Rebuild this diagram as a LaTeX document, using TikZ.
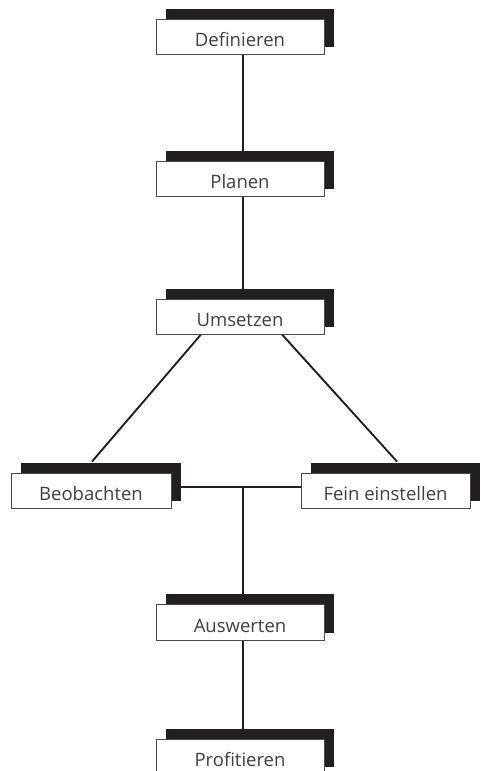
\documentclass[tikz,border=0pt]{standalone}
\usepackage{fontspec}
\setmainfont{Open Sans}
\usetikzlibrary{backgrounds}
\definecolor{ink}{HTML}{231F20}
\definecolor{boxline}{HTML}{4A4A4A}
\definecolor{txt}{HTML}{404040}
\begin{document}
\begin{tikzpicture}[x=1pt,y=-1pt,
  stage/.style={draw=boxline, line width=0.9pt, fill=white, minimum height=35pt,
    minimum width=168pt, inner sep=0pt, text height=20pt, text depth=0pt,
    text=txt, font=\fontsize{18.5}{20}\selectfont},
  link/.style={draw=ink, line width=1.9pt},
  shade/.style={fill=ink}]
  \useasboundingbox (0,0) rectangle (481,771);

  % process steps
  \node[stage] (def)  at (240,36.5)  {Definieren};
  \node[stage] (plan) at (240,178.5) {Planen};
  \node[stage] (ums)  at (240,316.5) {Umsetzen};
  \node[stage, minimum width=160pt] (beo)  at (91,490.5)  {Beobachten};
  \node[stage, minimum width=169pt] (fein) at (385.5,490.5) {Fein einstellen};
  \node[stage, minimum height=36pt] (ausw) at (240,622) {Auswerten};
  \node[stage] (prof) at (240,756.5) {Profitieren};

  \coordinate (j) at (243,487);

  \begin{scope}[on background layer]
    % connectors
    \draw[link] ([xshift=3pt]def.south)  -- ([xshift=3pt]plan.north);
    \draw[link] ([xshift=3pt]plan.south) -- ([xshift=3pt]ums.north);
    \draw[link] ([xshift=-39pt]ums.south) -- ([xshift=1pt,yshift=11pt]beo.north);
    \draw[link] ([xshift=42pt]ums.south)  -- ([xshift=11.5pt,yshift=11pt]fein.north);
    \draw[link] (beo.east |- j) -- (fein.west |- j);
    \draw[link] (j) -- (ausw.north -| j);
    \draw[link] ([xshift=3pt]ausw.south) -- ([xshift=3pt]prof.north);
    % drop shadows
    \foreach \n in {def,plan,ums,beo,fein,ausw,prof}
      \fill[shade] ([xshift=10pt,yshift=10pt]\n.north west)
        rectangle ([xshift=10pt,yshift=7pt]\n.south east);
  \end{scope}
\end{tikzpicture}
\end{document}
